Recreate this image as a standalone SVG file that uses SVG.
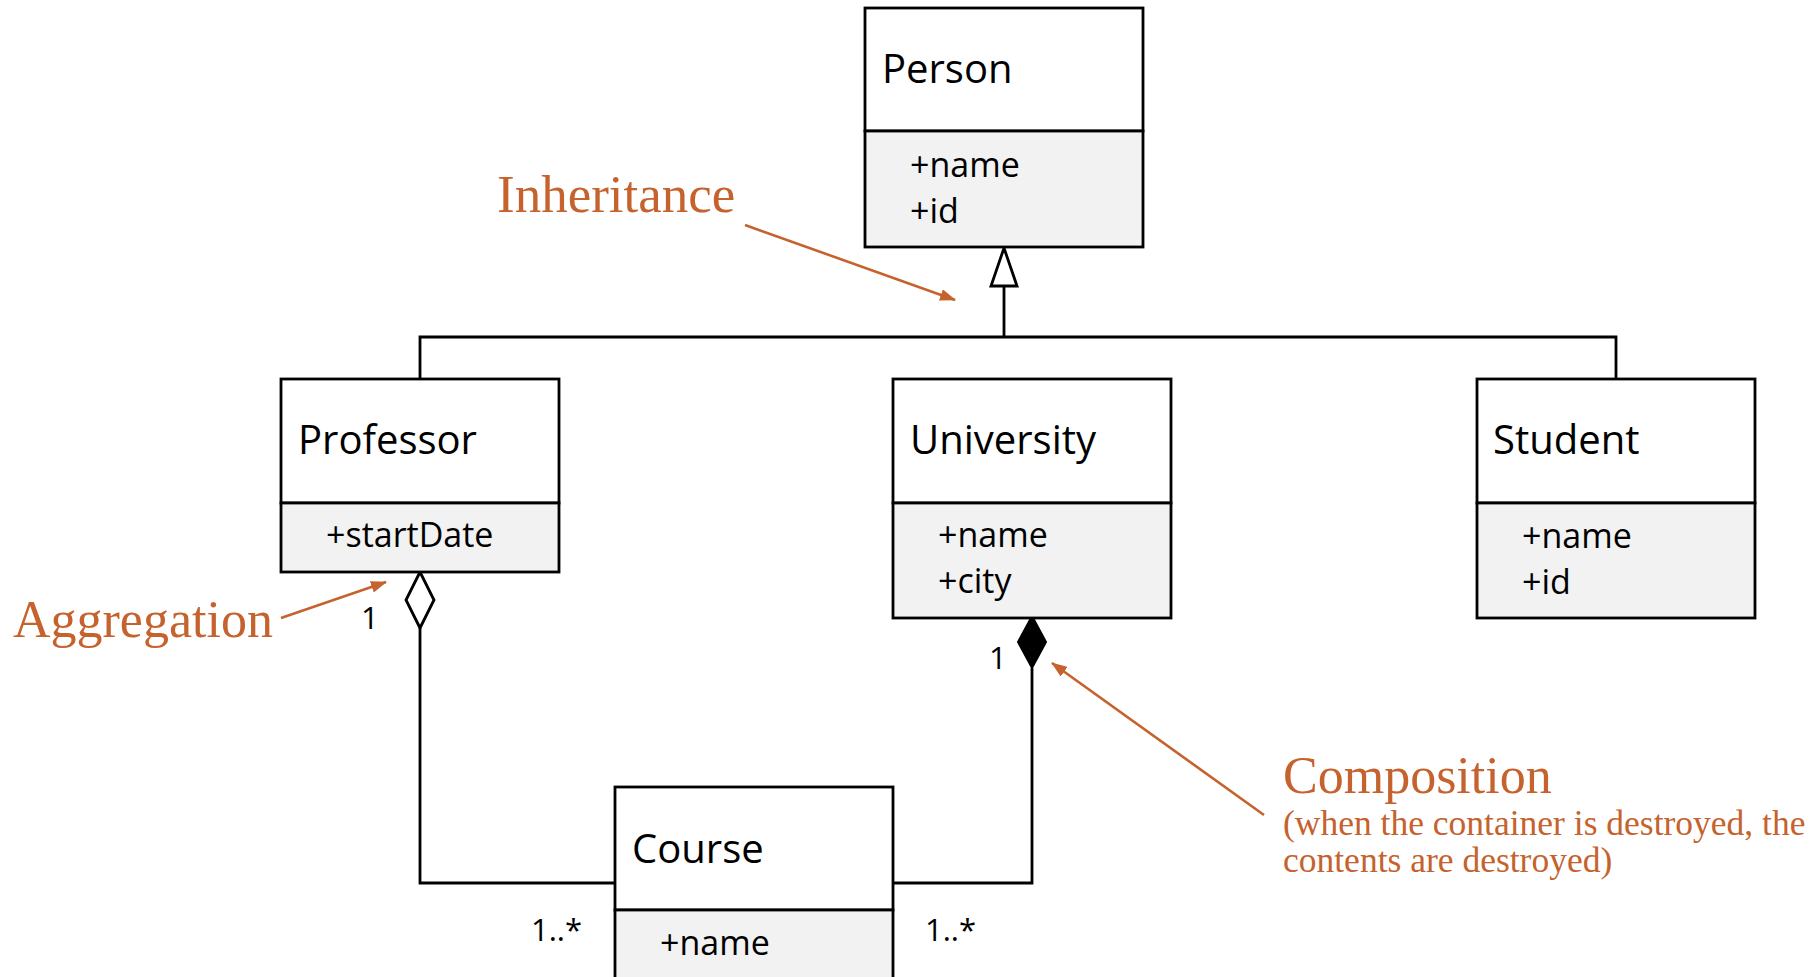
<svg xmlns="http://www.w3.org/2000/svg" width="1818" height="977" viewBox="0 0 1818 977">
<style>
.hdr{fill:#ffffff;stroke:#000;stroke-width:2.8}
.att{fill:#f2f2f2;stroke:#000;stroke-width:2.8}
.t{font-family:"Open Sans","Noto Sans",sans-serif;font-size:40px;fill:#000}
.a{font-family:"Open Sans","Noto Sans",sans-serif;font-size:34px;fill:#000}
.m{font-family:"Open Sans","Noto Sans",sans-serif;font-size:31px;fill:#000}
.c{fill:none;stroke:#000;stroke-width:2.8}
.o{font-family:"Liberation Serif","Times New Roman",serif;fill:#C5622D}
.oa{stroke:#C5622D;stroke-width:2.6;fill:none}
</style>
<defs>
<marker id="ah" viewBox="0 0 16 12" refX="15" refY="6" markerWidth="16" markerHeight="12" markerUnits="userSpaceOnUse" orient="auto">
<path d="M0,0 L16,6 L0,12 Z" fill="#C5622D"/>
</marker>
</defs>
<rect width="1818" height="977" fill="#fff"/>
<g id="connectors">
<polyline class="c" points="420,379 420,337 1616,337 1616,379"/>
<line class="c" x1="1004" y1="286" x2="1004" y2="337"/>
<polygon points="1004,248 1017,286 991,286" fill="#fff" stroke="#000" stroke-width="2.8"/>
<polyline class="c" points="420,628 420,883 615,883"/>
<polygon points="420,572 434,600 420,628 406,600" fill="#fff" stroke="#000" stroke-width="2.8"/>
<polyline class="c" points="893,883 1032,883 1032,668"/>
<polygon points="1032,616 1046,642 1032,668 1018,642" fill="#000" stroke="#000" stroke-width="2"/>
<text class="m" x="361" y="629">1</text>
<text class="m" x="989" y="669">1</text>
<text class="m" x="531" y="941">1..*</text>
<text class="m" x="925" y="941">1..*</text>
</g>
<g id="person">
<rect class="hdr" x="865" y="8" width="278" height="123"/>
<rect class="att" x="865" y="131" width="278" height="116"/>
<text class="t" x="882" y="83">Person</text>
<text class="a" x="910" y="177">+name</text>
<text class="a" x="910" y="223">+id</text>
</g>
<g id="professor">
<rect class="hdr" x="281" y="379" width="278" height="124"/>
<rect class="att" x="281" y="503" width="278" height="69"/>
<text class="t" x="298" y="454">Professor</text>
<text class="a" x="326" y="547">+startDate</text>
</g>
<g id="university">
<rect class="hdr" x="893" y="379" width="278" height="124"/>
<rect class="att" x="893" y="503" width="278" height="115"/>
<text class="t" x="910" y="454">University</text>
<text class="a" x="938" y="547">+name</text>
<text class="a" x="938" y="593">+city</text>
</g>
<g id="student">
<rect class="hdr" x="1477" y="379" width="278" height="124"/>
<rect class="att" x="1477" y="503" width="278" height="115"/>
<text class="t" x="1493" y="454">Student</text>
<text class="a" x="1522" y="548">+name</text>
<text class="a" x="1522" y="594">+id</text>
</g>
<g id="course">
<rect class="hdr" x="615" y="787" width="278" height="123"/>
<rect class="att" x="615" y="910" width="278" height="80"/>
<text class="t" x="632" y="863">Course</text>
<text class="a" x="660" y="955">+name</text>
</g>
<g id="annotations">
<text class="o" x="497" y="212" font-size="53">Inheritance</text>
<line class="oa" x1="745" y1="225" x2="955" y2="300" marker-end="url(#ah)"/>
<text class="o" x="13" y="637" font-size="52">Aggregation</text>
<line class="oa" x1="281" y1="618" x2="386" y2="582" marker-end="url(#ah)"/>
<text class="o" x="1283" y="793" font-size="52">Composition</text>
<text class="o" x="1283" y="835" font-size="35.5">(when the container is destroyed, the</text>
<text class="o" x="1283" y="872" font-size="35.5">contents are destroyed)</text>
<line class="oa" x1="1264" y1="815" x2="1052" y2="663" marker-end="url(#ah)"/>
</g>
</svg>
